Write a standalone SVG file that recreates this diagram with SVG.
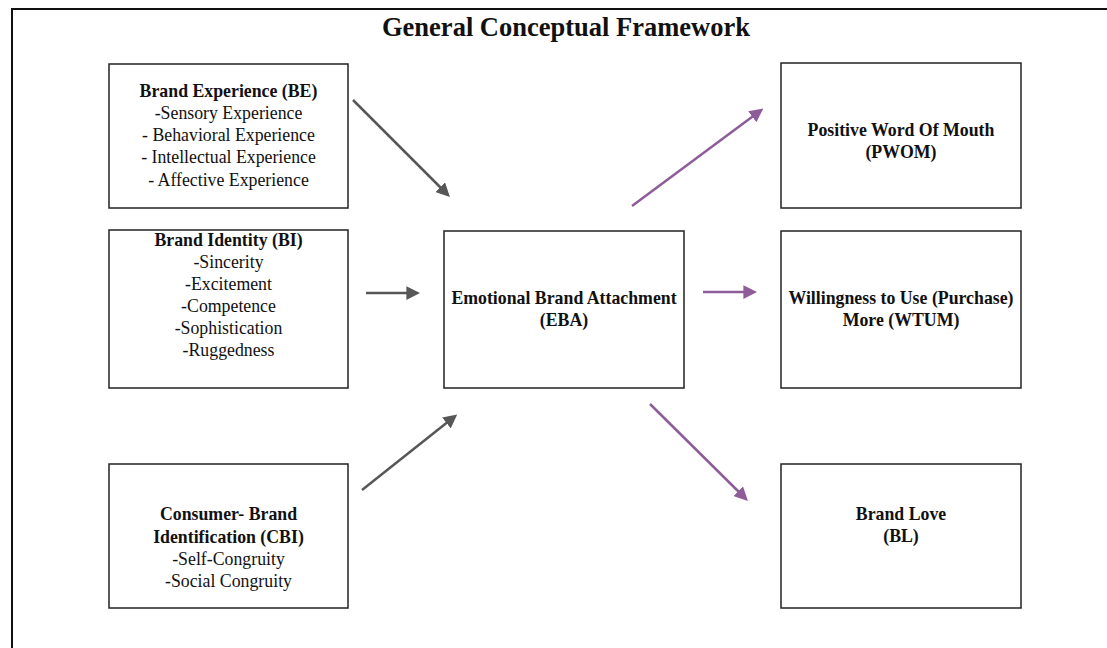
<svg xmlns="http://www.w3.org/2000/svg" width="1107" height="648" viewBox="0 0 1107 648">
<defs>
<style>
.box{fill:#fff;stroke:#222;stroke-width:1.5}
.t{font-family:"Liberation Serif","Times New Roman",serif;font-size:17.8px;fill:#111;text-anchor:middle}
.b{font-weight:bold}
.title{font-family:"Liberation Serif","Times New Roman",serif;font-size:26.5px;font-weight:bold;fill:#111;text-anchor:middle}
.g{stroke:#575757;stroke-width:2.5;fill:none}
.p{stroke:#8e5c99;stroke-width:2.5;fill:none}
</style>
<marker id="ag" viewBox="0 0 10 10" refX="7" refY="5" markerWidth="5.5" markerHeight="5.5" orient="auto" markerUnits="strokeWidth"><path d="M0,0 L10,5 L0,10 z" fill="#575757"/></marker>
<marker id="ap" viewBox="0 0 10 10" refX="7" refY="5" markerWidth="5.5" markerHeight="5.5" orient="auto" markerUnits="strokeWidth"><path d="M0,0 L10,5 L0,10 z" fill="#8e5c99"/></marker>
</defs>
<rect width="1107" height="648" fill="#fff"/>
<path d="M12,648 V9 H1107" fill="none" stroke="#111" stroke-width="2"/>
<text class="title" x="566" y="36">General Conceptual Framework</text>

<g id="BE">
<rect class="box" x="109" y="64" width="239" height="144"/>
<text class="t b" x="228.5" y="97">Brand Experience (BE)</text>
<text class="t" x="228.5" y="119">-Sensory Experience</text>
<text class="t" x="228.5" y="141">- Behavioral Experience</text>
<text class="t" x="228.5" y="163">- Intellectual Experience</text>
<text class="t" x="228.5" y="186">- Affective Experience</text>
</g>
<g id="BI">
<rect class="box" x="109" y="230" width="239" height="158"/>
<text class="t b" x="228.5" y="246">Brand Identity (BI)</text>
<text class="t" x="228.5" y="268">-Sincerity</text>
<text class="t" x="228.5" y="290">-Excitement</text>
<text class="t" x="228.5" y="312">-Competence</text>
<text class="t" x="228.5" y="334">-Sophistication</text>
<text class="t" x="228.5" y="356">-Ruggedness</text>
</g>
<g id="CBI">
<rect class="box" x="109" y="464" width="239" height="144"/>
<text class="t b" x="228.5" y="520">Consumer- Brand</text>
<text class="t b" x="228.5" y="543">Identification (CBI)</text>
<text class="t" x="228.5" y="565">-Self-Congruity</text>
<text class="t" x="228.5" y="587">-Social Congruity</text>
</g>
<g id="EBA">
<rect class="box" x="444" y="231" width="240" height="157"/>
<text class="t b" x="564" y="304">Emotional Brand Attachment</text>
<text class="t b" x="564" y="326">(EBA)</text>
</g>
<g id="PWOM">
<rect class="box" x="781" y="63" width="240" height="145"/>
<text class="t b" x="901" y="136">Positive Word Of Mouth</text>
<text class="t b" x="901" y="158">(PWOM)</text>
</g>
<g id="WTUM">
<rect class="box" x="781" y="231" width="240" height="157"/>
<text class="t b" x="901" y="304">Willingness to Use (Purchase)</text>
<text class="t b" x="901" y="326">More (WTUM)</text>
</g>
<g id="BL">
<rect class="box" x="781" y="464" width="240" height="144"/>
<text class="t b" x="901" y="520">Brand Love</text>
<text class="t b" x="901" y="542">(BL)</text>
</g>

<g id="connectors">
<line class="g" x1="353" y1="100" x2="447" y2="194" marker-end="url(#ag)"/>
<line class="g" x1="366" y1="293" x2="416" y2="293" marker-end="url(#ag)"/>
<line class="g" x1="362" y1="490" x2="454" y2="417" marker-end="url(#ag)"/>
<line class="p" x1="632" y1="206" x2="760" y2="111" marker-end="url(#ap)"/>
<line class="p" x1="703" y1="292" x2="753" y2="292" marker-end="url(#ap)"/>
<line class="p" x1="650" y1="404" x2="745" y2="498" marker-end="url(#ap)"/>
</g>
</svg>
